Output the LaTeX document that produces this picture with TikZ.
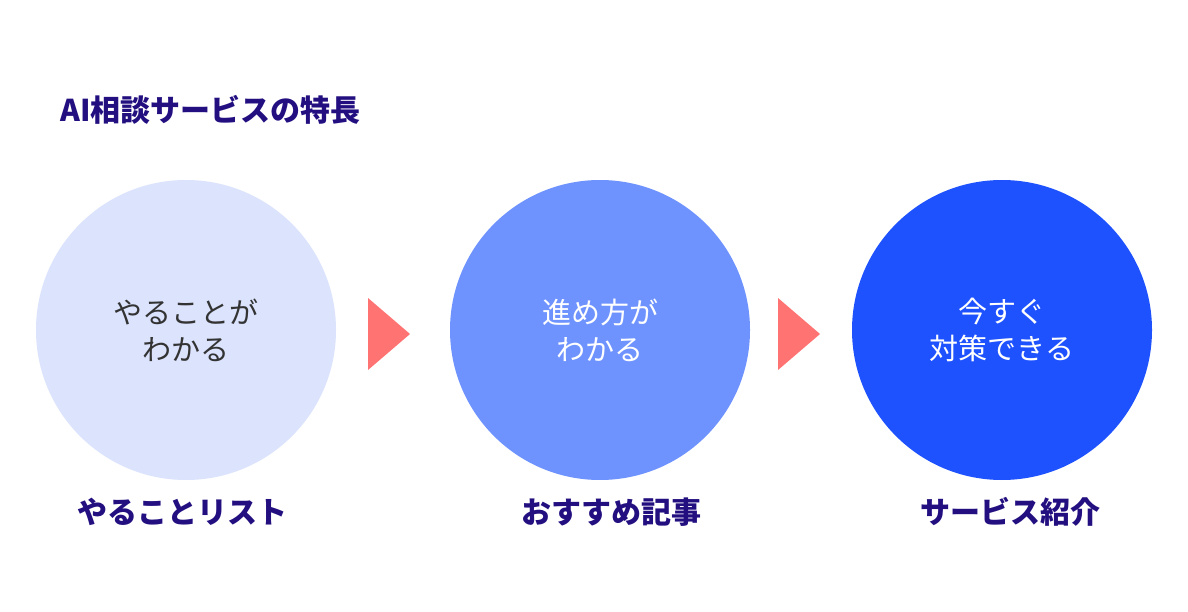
\documentclass[tikz,border=0pt]{standalone}
\usepackage{fontspec}
\newfontfamily\jpfont{Noto Sans CJK JP}
\definecolor{navy}{HTML}{230F80}
\definecolor{paleblue}{HTML}{DBE3FD}
\definecolor{midblue}{HTML}{6E93FF}
\definecolor{deepblue}{HTML}{1E52FF}
\definecolor{salmon}{HTML}{FF7373}
\definecolor{inkgray}{HTML}{333333}
\tikzset{
  bubble/.style={circle, minimum size=300pt, inner sep=0pt},
  bubbletext/.style={align=center, font=\jpfont\fontsize{29}{37}\selectfont},
  caption/.style={text=navy, font=\jpfont\bfseries\fontsize{30}{34}\selectfont},
}
\begin{document}
\begin{tikzpicture}[x=1pt, y=-1pt, line join=round]
  \useasboundingbox (0,0) rectangle (1188,612);
  \fill[white] (0,0) rectangle (1188,612);

  \node[anchor=west, text=navy, font=\jpfont\bfseries\fontsize{30}{34}\selectfont] (title) at (57,110) {AI相談サービスの特長};

  \coordinate (P) at (186,330);
  \coordinate (Q) at (600,330);
  \coordinate (R) at (1002,330);

  \foreach \c/\col/\txt/\tc in {P/paleblue/{やることが\\わかる}/inkgray, Q/midblue/{進め方が\\わかる}/white, R/deepblue/{今すぐ\\対策できる}/white} {
    \node[bubble, fill=\col] (b\c) at (\c) {};
    \node[bubbletext, text=\tc] at (\c) {\txt};
  }

  \fill[salmon] (368,298) -- (410,334) -- (368,370) -- cycle;
  \fill[salmon] (778,298) -- (820,334) -- (778,370) -- cycle;

  \node[caption] (capP) at (182,512) {やることリスト};
  \node[caption] (capQ) at (611,512) {おすすめ記事};
  \node[caption] (capR) at (1010,512) {サービス紹介};
\end{tikzpicture}
\end{document}
